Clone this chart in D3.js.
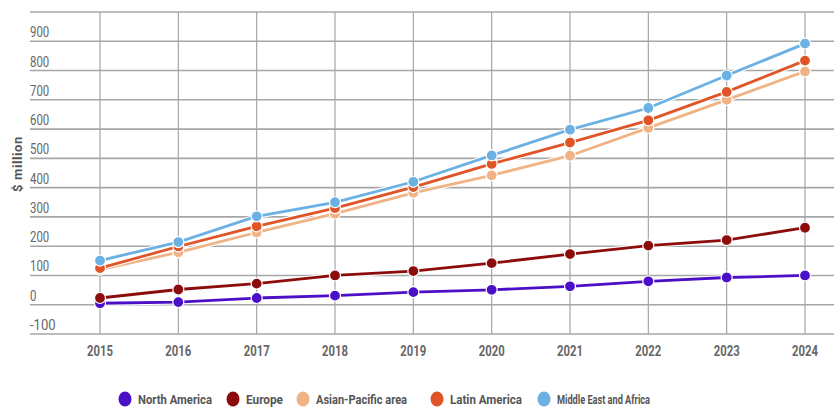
<!DOCTYPE html>
<html>
<head>
<meta charset="utf-8">
<script src="https://cdn.jsdelivr.net/npm/d3@7"></script>
<style>
  body { margin: 0; background: #fff; }
  svg text { font-family: Roboto, "Liberation Sans", sans-serif; }
</style>
</head>
<body>
<svg id="chart" width="834" height="408"></svg>
<script>
// data
const years = [2015, 2016, 2017, 2018, 2019, 2020, 2021, 2022, 2023, 2024];
const yTicks = [-100, 0, 100, 200, 300, 400, 500, 600, 700, 800, 900];

const northAmerica = [5, 9, 23, 31, 43, 51, 63, 80, 93, 100];
const europe       = [23, 52, 72, 100, 115, 142, 173, 202, 221, 263];
const asiaPacific  = [120, 179, 247, 311, 382, 442, 509, 604, 700, 797];
const latinAmerica = [125, 199, 268, 330, 402, 481, 554, 630, 727, 834];
const middleEast   = [151, 214, 302, 350, 420, 510, 598, 672, 783, 892];

const seriesNames = ["North America", "Europe", "Asian-Pacific area", "Latin America", "Middle East and Africa"];
const seriesColors = ["#4a0fc6", "#8c0c0c", "#f0b385", "#df5528", "#6cb1e4"];
const seriesValues = [northAmerica, europe, asiaPacific, latinAmerica, middleEast];

const series = seriesNames.map((name, i) => ({
    name,
    color: seriesColors[i],
    values: years.map((yr, j) => ({ year: yr, value: seriesValues[i][j] }))
}));

const svg = d3.select("#chart");

const x = d3.scaleLinear().domain([2015, 2024]).range([100, 805]);
const y = d3.scaleLinear().domain([-100, 1000]).range([334, 12]);

const gridColor = "#a6a6a6";

// horizontal grid (incl. top line at 1000)
svg.append("g")
    .selectAll("line")
    .data(yTicks.concat([1000]))
    .join("line")
    .attr("x1", 30).attr("x2", 834)
    .attr("y1", d => y(d)).attr("y2", d => y(d))
    .attr("stroke", gridColor)
    .attr("stroke-width", 1.6);

// vertical grid
svg.append("g")
    .selectAll("line")
    .data(years)
    .join("line")
    .attr("x1", d => x(d)).attr("x2", d => x(d))
    .attr("y1", y(1000)).attr("y2", y(-100))
    .attr("stroke", gridColor)
    .attr("stroke-width", 1.2);

// y labels sit just above their grid line (condensed look via textLength)
svg.append("g")
    .selectAll("text")
    .data(yTicks)
    .join("text")
    .attr("x", 30)
    .attr("y", d => y(d) - 4)
    .attr("fill", "#666")
    .attr("font-size", 15)
    .attr("textLength", d => String(d).length * 6.4)
    .attr("lengthAdjust", "spacingAndGlyphs")
    .text(d => d);

// x labels
svg.append("g")
    .selectAll("text")
    .data(years)
    .join("text")
    .attr("x", d => x(d) - 13)
    .attr("y", 356)
    .attr("fill", "#666")
    .attr("font-size", 15)
    .attr("font-weight", "bold")
    .attr("textLength", 26)
    .attr("lengthAdjust", "spacingAndGlyphs")
    .text(d => d);

// axis title
svg.append("text")
    .attr("transform", "translate(22,164) rotate(-90)")
    .attr("text-anchor", "middle")
    .attr("fill", "#555")
    .attr("font-size", 13)
    .attr("font-weight", "bold")
    .attr("letter-spacing", 0.6)
    .text("$ million");

const line = d3.line().x(d => x(d.year)).y(d => y(d.value));

const sg = svg.append("g")
    .selectAll("g")
    .data(series)
    .join("g");

// white halo under each line
sg.append("path")
    .attr("d", d => line(d.values))
    .attr("fill", "none")
    .attr("stroke", "#fff")
    .attr("stroke-width", 5);

sg.append("path")
    .attr("d", d => line(d.values))
    .attr("fill", "none")
    .attr("stroke", d => d.color)
    .attr("stroke-width", 2.8);

sg.selectAll("circle")
    .data(d => d.values.map(v => ({ ...v, color: d.color })))
    .join("circle")
    .attr("cx", d => x(d.year))
    .attr("cy", d => y(d.value))
    .attr("r", 5.5)
    .attr("fill", d => d.color)
    .attr("stroke", "#fff")
    .attr("stroke-width", 1.2);

// legend
const legendX = [125, 233, 303, 437, 544];
const legendW = [74, 37, 91, 72, 93];
const legend = svg.append("g")
    .selectAll("g")
    .data(series)
    .join("g")
    .attr("transform", (d, i) => `translate(${legendX[i]},399)`);

legend.append("ellipse")
    .attr("rx", 6.5)
    .attr("ry", 7.5)
    .attr("fill", d => d.color);

legend.append("text")
    .attr("x", 13)
    .attr("y", 5)
    .attr("fill", "#555")
    .attr("font-size", 13)
    .attr("font-weight", "bold")
    .attr("textLength", (d, i) => legendW[i])
    .attr("lengthAdjust", "spacingAndGlyphs")
    .text(d => d.name);
</script>
</body>
</html>
